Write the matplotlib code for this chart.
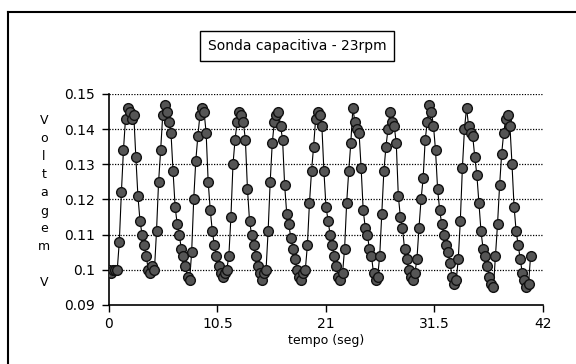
import matplotlib
matplotlib.use("Agg")
import matplotlib.pyplot as plt
import numpy as np
from matplotlib.lines import Line2D

# capacitive probe readings, one sample every SAMPLE_INTERVAL seconds
SAMPLE_INTERVAL = 0.2

voltagem = [
    0.100, 0.099, 0.100, 0.100, 0.100, 0.108, 0.122, 0.134, 0.143, 0.146, 0.145, 0.143,
    0.144, 0.132, 0.121, 0.114, 0.110, 0.107, 0.104, 0.100, 0.099, 0.101, 0.100,
    0.111, 0.125, 0.134, 0.144, 0.147, 0.145, 0.142, 0.139, 0.128, 0.118, 0.113, 0.110,
    0.106, 0.104, 0.101, 0.098, 0.097,
    0.105, 0.120, 0.131, 0.138, 0.144, 0.146, 0.145, 0.139, 0.125, 0.117, 0.111, 0.107,
    0.104, 0.101, 0.099, 0.098, 0.099, 0.100,
    0.104, 0.115, 0.130, 0.137, 0.142, 0.145, 0.144, 0.142, 0.137, 0.123, 0.114, 0.110,
    0.107, 0.104, 0.101, 0.099, 0.097, 0.099, 0.100,
    0.111, 0.125, 0.136, 0.142, 0.144, 0.145, 0.141, 0.137, 0.124, 0.116, 0.113, 0.109,
    0.106, 0.103, 0.100, 0.098, 0.097, 0.099, 0.100,
    0.107, 0.119, 0.128, 0.135, 0.143, 0.145, 0.144, 0.141, 0.128, 0.118, 0.114, 0.110,
    0.107, 0.104, 0.101, 0.098, 0.097, 0.099,
    0.106, 0.119, 0.128, 0.136, 0.146, 0.142, 0.140, 0.139, 0.129, 0.117, 0.112, 0.110,
    0.106, 0.104, 0.099, 0.097, 0.098,
    0.104, 0.116, 0.128, 0.135, 0.140, 0.145, 0.142, 0.141, 0.136, 0.121, 0.115, 0.112,
    0.106, 0.103, 0.100, 0.098, 0.097, 0.099,
    0.103, 0.112, 0.120, 0.126, 0.137, 0.142, 0.147, 0.145, 0.141, 0.134, 0.123, 0.117,
    0.113, 0.110, 0.107, 0.105, 0.102, 0.098, 0.096, 0.097,
    0.103, 0.114, 0.129, 0.140, 0.146, 0.141, 0.139, 0.138, 0.132, 0.127, 0.119, 0.111,
    0.106, 0.104, 0.101, 0.098, 0.096, 0.095,
    0.104, 0.113, 0.124, 0.133, 0.139, 0.143, 0.144, 0.141, 0.130, 0.118, 0.111, 0.107,
    0.103, 0.099, 0.097, 0.095, 0.096, 0.104,
]
tempo = np.arange(len(voltagem)) * SAMPLE_INTERVAL

x_ticks = [0, 10.5, 21, 31.5, 42]
x_tick_labels = ["0", "10.5", "21", "31.5", "42"]
y_ticks = [0.09, 0.10, 0.11, 0.12, 0.13, 0.14, 0.15]
y_tick_labels = ["0.09", "0.1", "0.11", "0.12", "0.13", "0.14", "0.15"]

title = "Sonda capacitiva - 23rpm"
x_label = "tempo (seg)"
y_label = "Voltagem V"

fig = plt.figure(figsize=(5.76, 3.64), dpi=100)
ax = fig.add_axes([0.1892, 0.1621, 0.7535, 0.5797])

# dotted horizontal grid
for y in y_ticks[1:]:
    ax.axhline(y, color="black", linestyle=(0, (1, 1.2)), linewidth=0.9, zorder=1)

ax.plot(tempo, voltagem, color="black", linewidth=0.8, marker="o", markersize=7,
        markerfacecolor="#555555", markeredgecolor="#111111", markeredgewidth=1.0,
        zorder=3)

ax.set_xlim(0, 42)
ax.set_ylim(0.09, 0.15)
ax.set_xticks(x_ticks)
ax.set_xticklabels(x_tick_labels)
ax.set_yticks(y_ticks)
ax.set_yticklabels(y_tick_labels)
ax.tick_params(axis="both", direction="out", length=5, width=1, labelsize=10, pad=5)
ax.tick_params(axis="x", pad=4)
ax.spines["top"].set_visible(False)
ax.spines["right"].set_visible(False)
ax.spines["left"].set_linewidth(1.2)
ax.spines["bottom"].set_linewidth(1.2)
ax.set_xlabel(x_label, fontsize=9, labelpad=2)

# stacked vertical y label
fig.text(44 / 576, 1 - 202 / 364, "\n".join(y_label), fontsize=9, ha="center",
         va="center", linespacing=1.5)

# title box
fig.text(297 / 576, 1 - 46 / 364, title, fontsize=10, ha="center", va="center",
         bbox=dict(boxstyle="square,pad=0.55", facecolor="white", edgecolor="black",
                   linewidth=1.0))

# outer frame (left and top edges)
fig.add_artist(Line2D([8 / 576, 8 / 576], [0, 1 - 12 / 364], transform=fig.transFigure,
                      color="black", linewidth=1.5))
fig.add_artist(Line2D([8 / 576, 1], [1 - 12 / 364, 1 - 12 / 364], transform=fig.transFigure,
                      color="black", linewidth=1.5))

fig.savefig("out.png", dpi=100)
